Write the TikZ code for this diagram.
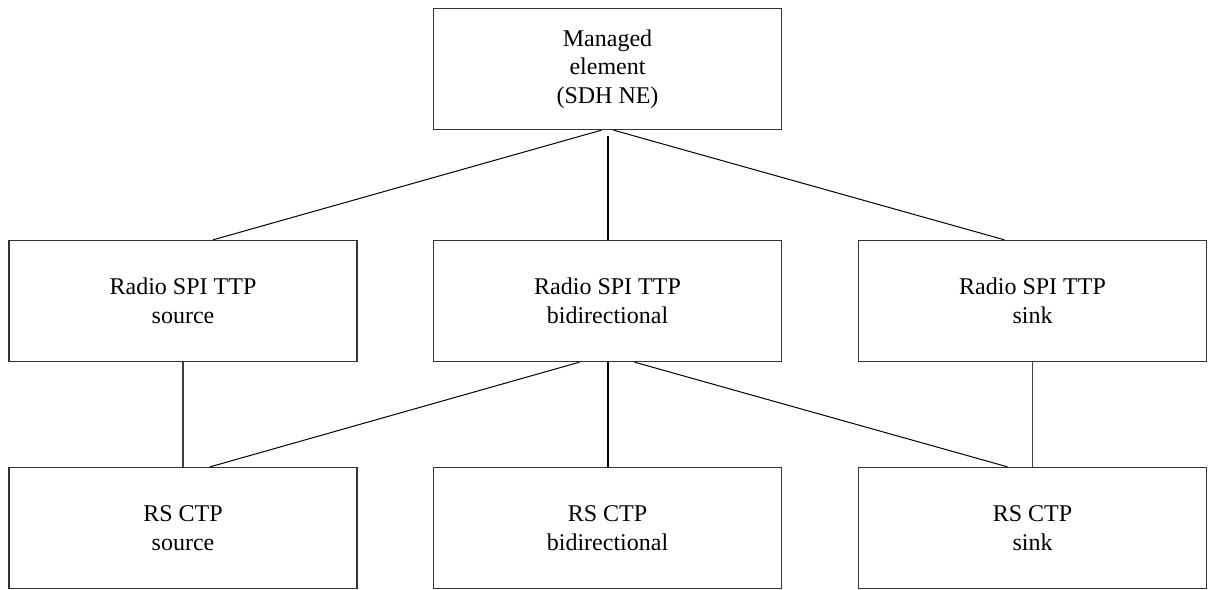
\documentclass[tikz,border=0pt]{standalone}
\usepackage{fontspec}
\setmainfont{Liberation Serif}
\begin{document}
\begin{tikzpicture}[x=1pt,y=-1pt,
  box/.style={draw=black!80, line width=1.3pt, minimum width=348pt, minimum height=121pt,
    inner sep=0pt, align=center, font=\fontsize{24}{28.5}\selectfont},
  thin/.style={draw=black, line width=1pt},
  thinv/.style={draw=black!75, line width=1.3pt},
  thick/.style={draw=black, line width=2pt}]
\useasboundingbox (0,0) rectangle (1209,589);
\node[box] (top) at (607.5,69) {Managed\\element\\(SDH NE)};
\node[box] (ml) at (183,301) {Radio SPI TTP\\source};
\node[box] (mm) at (607.5,301) {Radio SPI TTP\\bidirectional};
\node[box] (mr) at (1032.5,301) {Radio SPI TTP\\sink};
\node[box] (bl) at (183,528) {RS CTP\\source};
\node[box] (bm) at (607.5,528) {RS CTP\\bidirectional};
\node[box] (br) at (1032.5,528) {RS CTP\\sink};
\draw[thin] ([xshift=-6pt]top.south) -- ([xshift=30pt]ml.north);
\draw[thin] ([xshift=6pt]top.south) -- ([xshift=-28pt]mr.north);
\draw[thick] ([yshift=-6pt]top.south) -- (mm.north);
\draw[thinv] (ml.south) -- (bl.north);
\draw[thinv] (mr.south) -- (br.north);
\draw[thin] ([xshift=-28pt]mm.south) -- ([xshift=27pt]bl.north);
\draw[thin] ([xshift=27pt]mm.south) -- ([xshift=-25pt]br.north);
\draw[thick] (mm.south) -- (bm.north);
\end{tikzpicture}
\end{document}
